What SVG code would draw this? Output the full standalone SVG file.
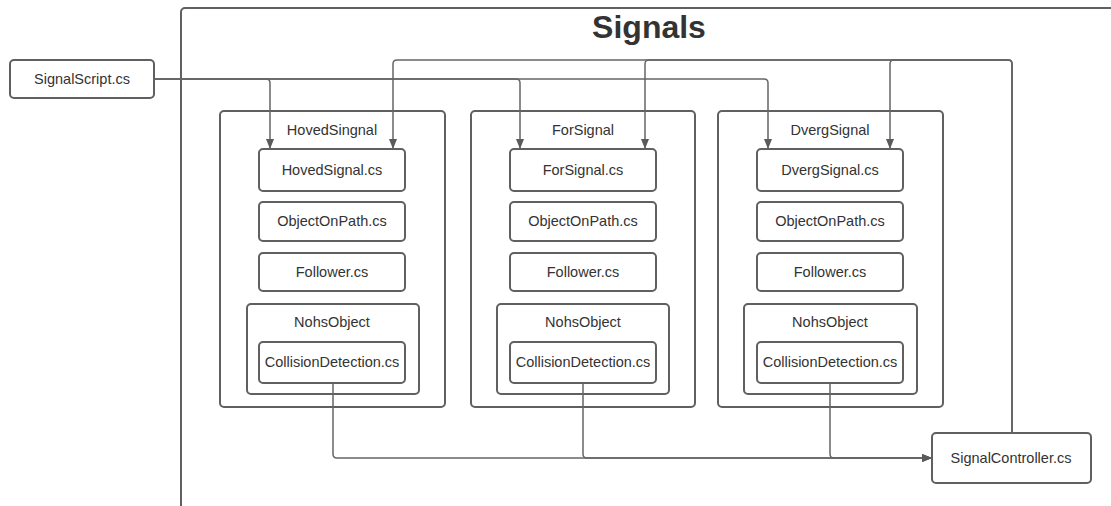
<svg xmlns="http://www.w3.org/2000/svg" width="1111" height="506" viewBox="0 0 1111 506">
<style>
.box{fill:#fff;stroke:#606060;stroke-width:2}
.frame{fill:none;stroke:#606060;stroke-width:2}
.lbl{font-family:"Liberation Sans",Arial,sans-serif;font-size:14.5px;fill:#333;text-anchor:middle}
.title{font-family:"Liberation Sans",Arial,sans-serif;font-size:32px;font-weight:bold;fill:#333;text-anchor:middle}
.conn{fill:none;stroke:#666;stroke-width:1.5}
</style>
<defs>
<marker id="ah" markerUnits="userSpaceOnUse" markerWidth="12" markerHeight="10" refX="10" refY="4" orient="auto">
<path d="M0,0 L10,4 L0,8 z" fill="#5a5a5a"/>
</marker>
</defs>
<rect width="1111" height="506" fill="#fff"/>
<g id="frame-signals">
<rect class="frame" x="181" y="8" width="1000" height="560" rx="4"/>
<text class="title" x="649" y="38">Signals</text>
</g>
<g id="signalscript">
<rect class="box" x="10" y="60" width="144" height="38" rx="4"/>
<text class="lbl" x="82" y="84">SignalScript.cs</text>
</g>
<g id="hoved">
<rect class="box" x="220" y="111" width="225" height="296" rx="4"/>
<text class="lbl" x="332" y="135">HovedSingnal</text>
<rect class="box" x="259" y="149" width="146" height="42" rx="4"/>
<text class="lbl" x="332" y="175">HovedSignal.cs</text>
<rect class="box" x="259" y="202" width="146" height="39" rx="4"/>
<text class="lbl" x="332" y="226">ObjectOnPath.cs</text>
<rect class="box" x="259" y="253" width="146" height="38" rx="4"/>
<text class="lbl" x="332" y="277">Follower.cs</text>
<rect class="box" x="247" y="304" width="172" height="90" rx="4"/>
<text class="lbl" x="332" y="327">NohsObject</text>
<rect class="box" x="259" y="342" width="146" height="41" rx="4"/>
<text class="lbl" x="332" y="367">CollisionDetection.cs</text>
</g>
<g id="for">
<rect class="box" x="471" y="111" width="224" height="296" rx="4"/>
<text class="lbl" x="583" y="135">ForSignal</text>
<rect class="box" x="510" y="149" width="146" height="42" rx="4"/>
<text class="lbl" x="583" y="175">ForSignal.cs</text>
<rect class="box" x="510" y="202" width="146" height="39" rx="4"/>
<text class="lbl" x="583" y="226">ObjectOnPath.cs</text>
<rect class="box" x="510" y="253" width="146" height="38" rx="4"/>
<text class="lbl" x="583" y="277">Follower.cs</text>
<rect class="box" x="497" y="304" width="172" height="90" rx="4"/>
<text class="lbl" x="583" y="327">NohsObject</text>
<rect class="box" x="510" y="342" width="146" height="41" rx="4"/>
<text class="lbl" x="583" y="367">CollisionDetection.cs</text>
</g>
<g id="dverg">
<rect class="box" x="718" y="111" width="225" height="296" rx="4"/>
<text class="lbl" x="830" y="135">DvergSignal</text>
<rect class="box" x="757" y="149" width="146" height="42" rx="4"/>
<text class="lbl" x="830" y="175">DvergSignal.cs</text>
<rect class="box" x="757" y="202" width="146" height="39" rx="4"/>
<text class="lbl" x="830" y="226">ObjectOnPath.cs</text>
<rect class="box" x="757" y="253" width="146" height="38" rx="4"/>
<text class="lbl" x="830" y="277">Follower.cs</text>
<rect class="box" x="744" y="304" width="173" height="90" rx="4"/>
<text class="lbl" x="830" y="327">NohsObject</text>
<rect class="box" x="757" y="342" width="146" height="41" rx="4"/>
<text class="lbl" x="830" y="367">CollisionDetection.cs</text>
</g>
<g id="signalcontroller">
<rect class="box" x="932" y="433" width="159" height="50" rx="4"/>
<text class="lbl" x="1011" y="463">SignalController.cs</text>
</g>
<g id="connectors">
<path class="conn" d="M154,79 H266 Q270,79 270,83 V149" marker-end="url(#ah)"/>
<path class="conn" d="M154,79 H516 Q520,79 520,83 V149" marker-end="url(#ah)"/>
<path class="conn" d="M154,79 H764 Q768,79 768,83 V149" marker-end="url(#ah)"/>
<path class="conn" d="M1012,433 V64 Q1012,60 1008,60 H397 Q393,60 393,64 V149" marker-end="url(#ah)"/>
<path class="conn" d="M1012,433 V64 Q1012,60 1008,60 H649 Q645,60 645,64 V149" marker-end="url(#ah)"/>
<path class="conn" d="M1012,433 V64 Q1012,60 1008,60 H894 Q890,60 890,64 V149" marker-end="url(#ah)"/>
<path class="conn" d="M333,383 V454 Q333,458 337,458 H932" marker-end="url(#ah)"/>
<path class="conn" d="M583,383 V454 Q583,458 587,458 H932" marker-end="url(#ah)"/>
<path class="conn" d="M830,383 V454 Q830,458 834,458 H932" marker-end="url(#ah)"/>
</g>
</svg>
